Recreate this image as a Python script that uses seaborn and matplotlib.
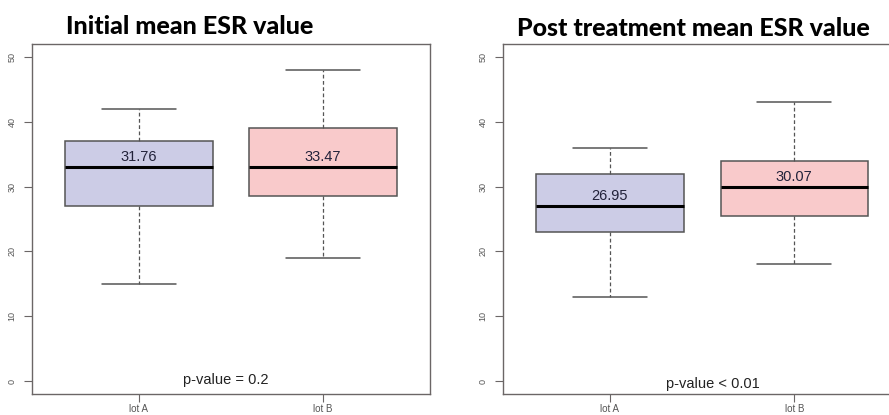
import pandas as pd
import matplotlib
matplotlib.use("Agg")
import matplotlib.pyplot as plt
import seaborn as sns

# five-number summaries (min, Q1, median, Q3, max)
groups = ["lot A", "lot B"]
initial_lot_a = [15, 27, 33, 37, 42]
initial_lot_b = [19, 28.5, 33, 39, 48]
post_lot_a = [13, 23, 27, 32, 36]
post_lot_b = [18, 25.5, 30, 34, 43]

initial_means = [31.76, 33.47]
post_means = [26.95, 30.07]

titles = ["Initial mean ESR value", "Post treatment mean ESR value"]
p_texts = ["p-value = 0.2", "p-value < 0.01"]
y_ticks = [0, 10, 20, 30, 40, 50]

box_colors = ["#CCCCE6", "#F9CACB"]
edge = "#555555"

sns.set_style("white")
plt.rcParams["font.family"] = ["Liberation Sans", "DejaVu Sans"]


def make_df(a, b):
    return pd.DataFrame({
        "group": [groups[0]] * len(a) + [groups[1]] * len(b),
        "esr": a + b,
    })


fig = plt.figure(figsize=(8.89, 4.15), dpi=100)
ax1 = fig.add_axes([32 / 889, 21 / 415, 398 / 889, 350 / 415])
ax2 = fig.add_axes([502.7 / 889, 21 / 415, 398.7 / 889, 350 / 415])

panels = [
    (ax1, make_df(initial_lot_a, initial_lot_b), initial_means,
     [initial_lot_a[2], initial_lot_b[2]], p_texts[0], 1.47 - 1, 0.2),
    (ax2, make_df(post_lot_a, post_lot_b), post_means,
     [post_lot_a[2], post_lot_b[2]], p_texts[1], 1.56 - 1, -0.5),
]

for ax, df, means, medians, ptxt, px, py in panels:
    sns.boxplot(
        data=df, x="group", y="esr", hue="group", palette=box_colors,
        saturation=1, legend=False, ax=ax, width=0.8, whis=(0, 100),
        linecolor=edge, linewidth=1.1,
        whiskerprops=dict(linestyle=(0, (3, 2)), color=edge, linewidth=0.9),
        capprops=dict(color=edge, linewidth=1.1),
        medianprops=dict(color="black", linewidth=2.2),
    )
    for i, m in enumerate(means):
        ax.text(i, medians[i] + 1.5, f"{m:.2f}", ha="center", va="center",
                fontsize=10.5, color="#22223a")
    ax.text(px, py, ptxt, ha="center", va="center", fontsize=10.5, color="#222222")
    ax.set_xlim(-0.58, 1.58)
    ax.set_ylim(-2, 52)
    ax.set_yticks(y_ticks)
    ax.set_xlabel("")
    ax.set_ylabel("")
    ax.tick_params(axis="y", left=True, length=6, width=0.8, color="#6b6666",
                   labelsize=6.5, labelcolor="#555555", labelrotation=90, pad=5)
    ax.tick_params(axis="x", bottom=True, length=6, width=0.8, color="#6b6666",
                   labelsize=7, labelcolor="#555555", pad=1.5)
    for lab in ax.get_yticklabels():
        lab.set_va("center")
    for s in ax.spines.values():
        s.set_color("#6b6666")
        s.set_linewidth(1.0)

fig.text(190 / 889, 1 - 26 / 415, titles[0], ha="center", va="center",
         fontsize=18, fontweight="black", family="Lato", color="black")
fig.text(693 / 889, 1 - 28 / 415, titles[1], ha="center", va="center",
         fontsize=18, fontweight="black", family="Lato", color="black")

fig.savefig("out.png", dpi=100)
